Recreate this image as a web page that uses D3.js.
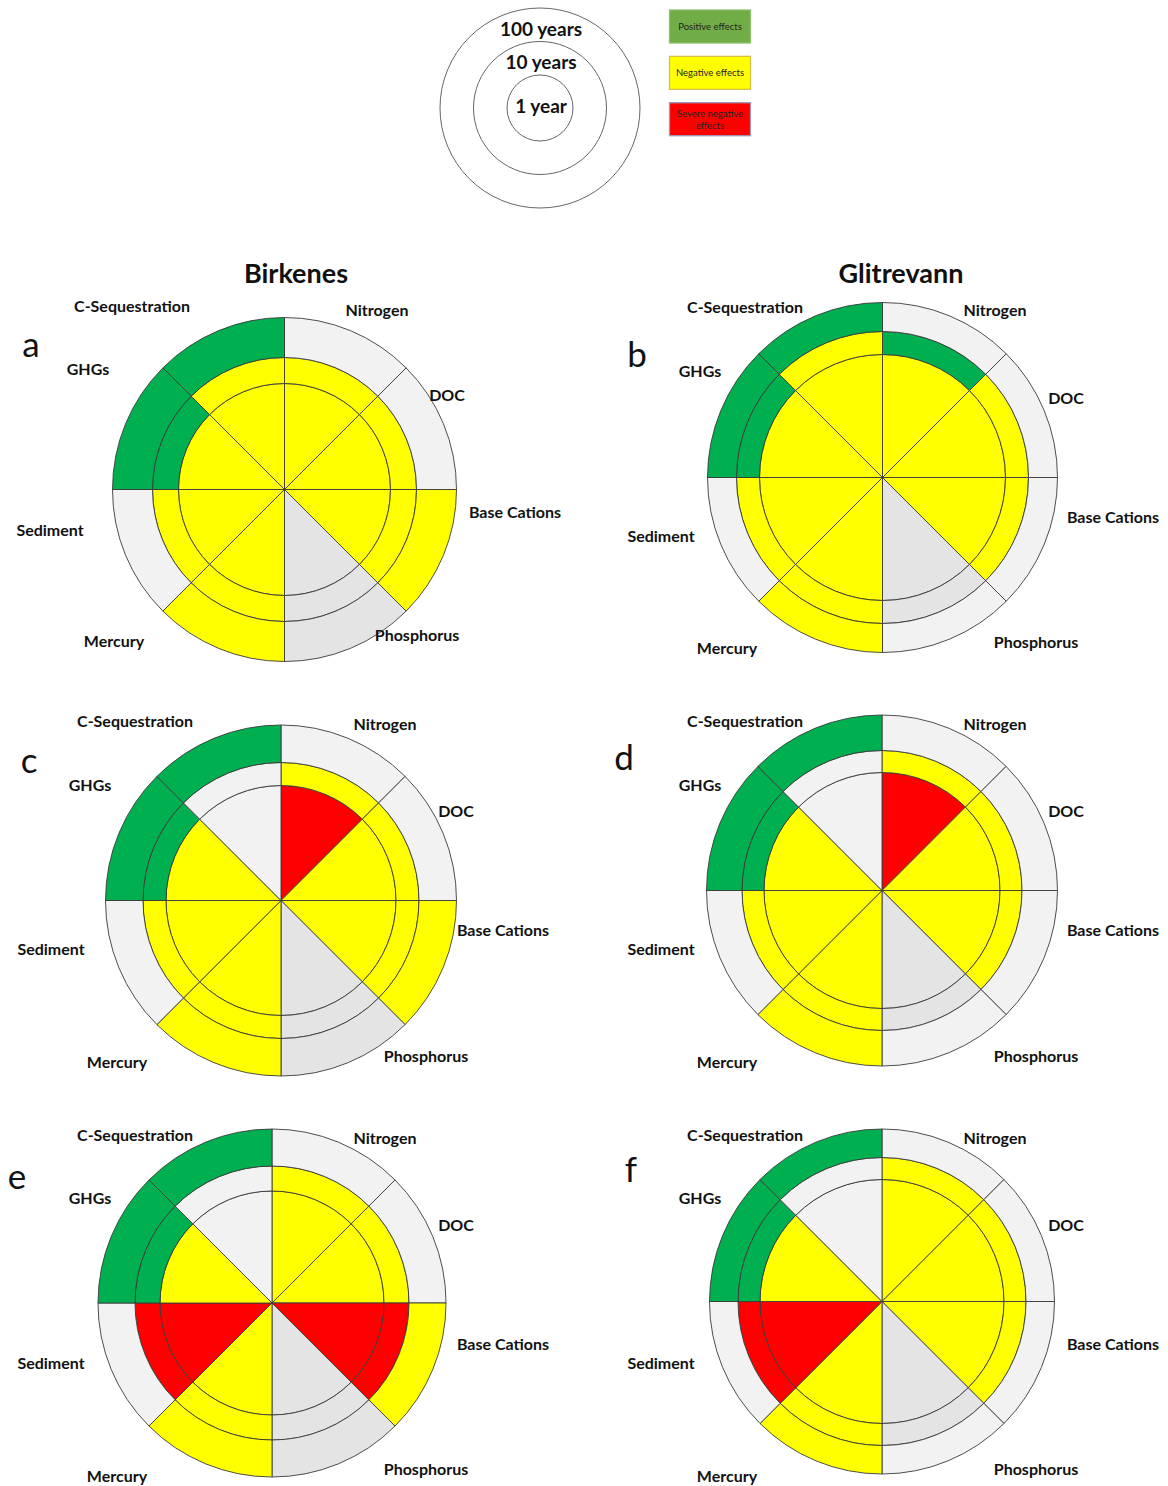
<!DOCTYPE html>
<html>
<head>
<meta charset="utf-8">
<script src="https://cdn.jsdelivr.net/npm/d3@7"></script>
<style>
  body { margin: 0; background: #fff; }
  svg { display: block; font-family: Lato, "Open Sans", sans-serif; }
  .cat { font-weight: bold; font-size: 16px; fill: #111; }
  .site { font-weight: bold; font-size: 27px; fill: #111; }
  .letter { font-size: 35px; fill: #111; }
</style>
</head>
<body>
<svg id="chart" width="1168" height="1486"></svg>
<script>
// sectors, clockwise from 12 o'clock
const categories = ["Nitrogen", "DOC", "Base Cations", "Phosphorus", "Mercury", "Sediment", "GHGs", "C-Sequestration"];
const rings = ["1 year", "10 years", "100 years"];
const effects = ["Positive effects", "Negative effects", "Severe negative effects"];
const sites = ["Birkenes", "Glitrevann"];
const panelLetters = ["a", "b", "c", "d", "e", "f"];

// per sector: [1 year, 10 years, 100 years]
// P positive, N negative, S severe negative, O no effect, X not relevant
const panelA = [["N","N","O"], ["N","N","O"], ["N","N","N"], ["X","X","X"], ["N","N","N"], ["N","N","O"], ["N","P","P"], ["N","N","P"]];
const panelB = [["N","P","O"], ["N","N","O"], ["N","N","O"], ["X","X","O"], ["N","N","N"], ["N","N","O"], ["N","P","P"], ["N","N","P"]];
const panelC = [["S","N","O"], ["N","N","O"], ["N","N","N"], ["X","X","X"], ["N","N","N"], ["N","N","O"], ["N","P","P"], ["O","O","P"]];
const panelD = [["S","N","O"], ["N","N","O"], ["N","N","O"], ["X","X","O"], ["N","N","N"], ["N","N","O"], ["N","P","P"], ["O","O","P"]];
const panelE = [["N","N","O"], ["N","N","O"], ["S","S","N"], ["X","X","X"], ["N","N","N"], ["S","S","O"], ["N","P","P"], ["O","O","P"]];
const panelF = [["N","N","O"], ["N","N","O"], ["N","N","O"], ["X","X","O"], ["N","N","N"], ["S","S","O"], ["N","P","P"], ["O","O","P"]];

const fillColor = { P: "#00b050", N: "#ffff00", S: "#ff0000", O: "#f2f2f2", X: "#e4e4e4" };

// layout of each panel: centre, ring radii, letter and label positions
const layout = [
  { data: panelA, cx: 284.5, cy: 489.5, radii: [106, 132, 172], letter: [31, 357],
    labels: [[377, 311], [447, 396], [515, 513], [417, 636], [114, 642], [50, 531], [88, 370], [132, 307]] },
  { data: panelB, cx: 882.5, cy: 477.5, radii: [123, 146, 175], letter: [637, 367],
    labels: [[995, 311], [1066, 399], [1113, 518], [1036, 643], [727, 649], [661, 537], [700, 372], [745, 308]] },
  { data: panelC, cx: 281, cy: 900.5, radii: [115, 138, 175.5], letter: [29, 773],
    labels: [[385, 725], [456, 812], [503, 931], [426, 1057], [117, 1063], [51, 950], [90, 786], [135, 722]] },
  { data: panelD, cx: 882, cy: 890.5, radii: [118, 140, 175.5], letter: [624, 770],
    labels: [[995, 725], [1066, 812], [1113, 931], [1036, 1057], [727, 1063], [661, 950], [700, 786], [745, 722]] },
  { data: panelE, cx: 272, cy: 1303, radii: [112, 137, 174], letter: [17, 1189],
    labels: [[385, 1139], [456, 1226], [503, 1345], [426, 1470], [117, 1477], [51, 1364], [90, 1199], [135, 1136]] },
  { data: panelF, cx: 882, cy: 1301.5, radii: [122, 144, 172.5], letter: [631, 1182],
    labels: [[995, 1139], [1066, 1226], [1113, 1345], [1036, 1470], [727, 1477], [661, 1364], [700, 1199], [745, 1136]] }
];

const svg = d3.select("#chart");
const angle = d3.scaleBand().domain(categories).range([0, 2 * Math.PI]);

layout.forEach((p, pi) => {
  const radius = d3.scaleOrdinal().domain(rings).range(p.radii);
  const arc = d3.arc()
    .startAngle(d => angle(d.cat))
    .endAngle(d => angle(d.cat) + angle.bandwidth())
    .innerRadius(d => d.ring === 0 ? 0 : radius(rings[d.ring - 1]))
    .outerRadius(d => radius(rings[d.ring]));

  const cells = [];
  categories.forEach((c, ci) => {
    p.data[ci].forEach((code, ri) => cells.push({ cat: c, ring: ri, code: code }));
  });

  const g = svg.append("g").attr("transform", `translate(${p.cx},${p.cy})`);
  g.selectAll("path").data(cells).join("path")
    .attr("d", arc)
    .attr("fill", d => fillColor[d.code])
    .attr("stroke", "#3a3a3a")
    .attr("stroke-width", 0.9)
    .attr("stroke-linejoin", "round");

  svg.append("g").selectAll("text").data(categories).join("text")
    .attr("class", "cat")
    .attr("x", (d, i) => p.labels[i][0])
    .attr("y", (d, i) => p.labels[i][1] + 5)
    .attr("text-anchor", "middle")
    .text(d => d);

  svg.append("text").attr("class", "letter")
    .attr("x", p.letter[0]).attr("y", p.letter[1])
    .attr("text-anchor", "middle")
    .text(panelLetters[pi]);
});

// site titles
svg.selectAll(".site").data(sites).join("text")
  .attr("class", "site")
  .attr("x", (d, i) => [296, 901][i])
  .attr("y", 283)
  .attr("text-anchor", "middle")
  .text(d => d);

// ring legend
const ringLegend = svg.append("g").attr("transform", "translate(540,108)");
const legendRadius = d3.scaleOrdinal().domain(rings).range([33, 66.5, 100]);
ringLegend.selectAll("circle").data(rings.slice().reverse()).join("circle")
  .attr("r", d => legendRadius(d))
  .attr("fill", "#fff")
  .attr("stroke", "#555")
  .attr("stroke-width", 0.9);
ringLegend.selectAll("text").data(rings).join("text")
  .attr("x", 1)
  .attr("y", d => ({ "1 year": 5, "10 years": -39, "100 years": -72 })[d])
  .attr("text-anchor", "middle")
  .style("font-weight", "bold")
  .style("font-size", "19px")
  .style("fill", "#111")
  .text(d => d);

// colour legend
const legendFill = { "Positive effects": "#70ad47", "Negative effects": "#ffff00", "Severe negative effects": "#ff0000" };
const legendStroke = { "Positive effects": "#8fbf6f", "Negative effects": "#d6c04a", "Severe negative effects": "#9a9ab8" };
const boxY = d3.scalePoint().domain(effects).range([10, 102.7]);
const box = svg.append("g").selectAll("g").data(effects).join("g")
  .attr("transform", d => `translate(669.5,${boxY(d)})`);
box.append("rect")
  .attr("width", 81).attr("height", 33)
  .attr("fill", d => legendFill[d])
  .attr("stroke", d => legendStroke[d])
  .attr("stroke-width", 1.3);
box.append("text")
  .attr("x", 40.5)
  .attr("text-anchor", "middle")
  .style("font-size", "9.5px")
  .style("fill", "#222")
  .each(function (d) {
    const t = d3.select(this);
    if (d === "Severe negative effects") {
      t.append("tspan").attr("x", 40.5).attr("y", 14).text("Severe negative");
      t.append("tspan").attr("x", 40.5).attr("y", 26).text("effects");
    } else {
      t.attr("y", 20).text(d);
    }
  });
</script>
</body>
</html>
